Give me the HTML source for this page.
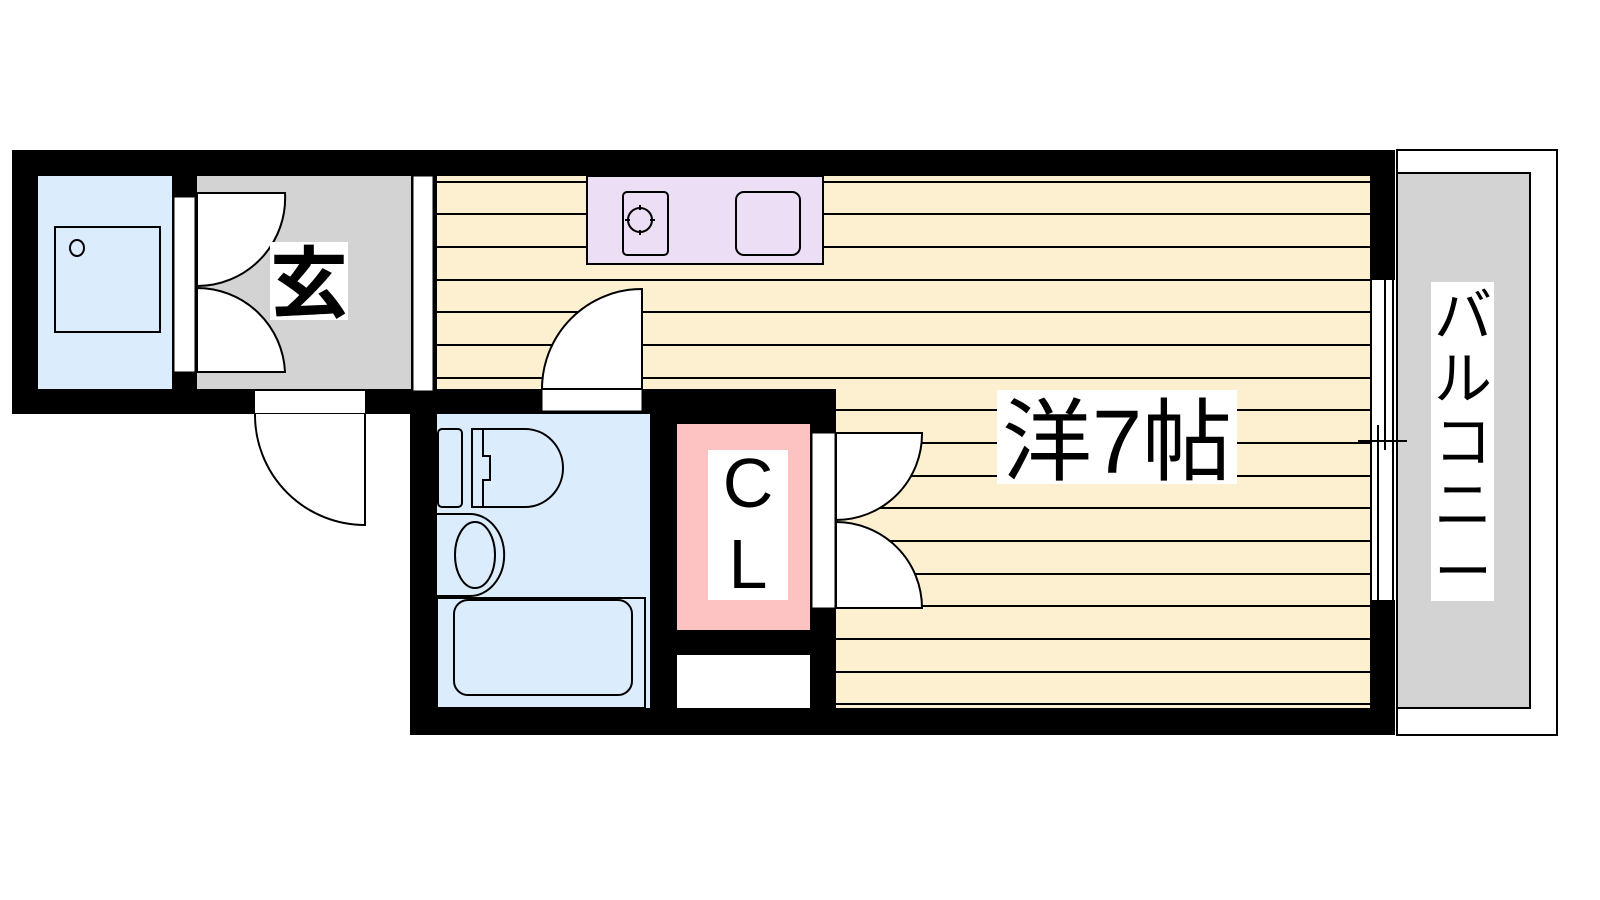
<!DOCTYPE html>
<html><head><meta charset="utf-8"><style>
html,body{margin:0;padding:0;background:#fff;width:1600px;height:900px;overflow:hidden}
svg{display:block}
text{font-family:"Liberation Sans","Noto Sans CJK JP",sans-serif;fill:#000}
</style></head><body>
<svg width="1600" height="900" viewBox="0 0 1600 900" xmlns="http://www.w3.org/2000/svg">
<rect width="1600" height="900" fill="#fff"/>
<!-- balcony -->
<rect x="1397" y="150" width="160" height="585" fill="#fff" stroke="#000" stroke-width="2"/>
<rect x="1397" y="173" width="133" height="535" fill="#d3d3d3" stroke="#000" stroke-width="2"/>
<!-- walls -->
<polygon points="12,150 1395,150 1395,735 410,735 410,414 12,414" fill="#000"/>
<!-- washer area -->
<rect x="38" y="176" width="134" height="213" fill="#dbecfd"/>
<rect x="55" y="227" width="105" height="105" fill="none" stroke="#000" stroke-width="2"/>
<ellipse cx="77" cy="248" rx="7" ry="8" fill="none" stroke="#000" stroke-width="2"/>
<!-- genkan -->
<rect x="197" y="176" width="214" height="213" fill="#d3d3d3"/>
<rect x="174" y="197" width="21" height="175" fill="#fff" stroke="#000" stroke-width="1"/>
<path d="M197,193 H285 A88,88 0 0 1 197,286 Z" fill="#fff" stroke="#000" stroke-width="2"/>
<path d="M197,372 H285 A88,88 0 0 0 197,288 Z" fill="#fff" stroke="#000" stroke-width="2"/>
<rect x="270" y="242" width="78" height="78" fill="#fff"/>
<text x="309" y="311" font-size="78" font-weight="bold" text-anchor="middle">玄</text>
<!-- partition -->
<rect x="413" y="176" width="20" height="215" fill="#fff" stroke="#000" stroke-width="1"/>
<!-- entry door -->
<rect x="255" y="391" width="110" height="23" fill="#fff"/>
<line x1="255" y1="414" x2="365" y2="414" stroke="#000" stroke-width="2"/>
<path d="M255,414 A110,110 0 0 0 365,525 V414" fill="#fff" stroke="#000" stroke-width="2"/>
<!-- room -->
<rect x="437" y="176" width="933" height="213" fill="#fdf0d1"/>
<rect x="836" y="389" width="534" height="319" fill="#fdf0d1"/>
<g stroke="#000" stroke-width="2">
<line x1="437" y1="182" x2="1370" y2="182"/><line x1="437" y1="214" x2="1370" y2="214"/>
<line x1="437" y1="247" x2="1370" y2="247"/><line x1="437" y1="280" x2="1370" y2="280"/>
<line x1="437" y1="312" x2="1370" y2="312"/><line x1="437" y1="345" x2="1370" y2="345"/>
<line x1="437" y1="378" x2="1370" y2="378"/>
<line x1="836" y1="410" x2="1370" y2="410"/><line x1="836" y1="443" x2="1370" y2="443"/>
<line x1="836" y1="476" x2="1370" y2="476"/><line x1="836" y1="508" x2="1370" y2="508"/>
<line x1="836" y1="541" x2="1370" y2="541"/><line x1="836" y1="574" x2="1370" y2="574"/>
<line x1="836" y1="606" x2="1370" y2="606"/><line x1="836" y1="639" x2="1370" y2="639"/>
<line x1="836" y1="672" x2="1370" y2="672"/><line x1="836" y1="704" x2="1370" y2="704"/>
</g>
<!-- kitchen -->
<rect x="587" y="176" width="236" height="88" fill="#ecdff5" stroke="#000" stroke-width="2"/>
<rect x="623" y="192" width="45" height="63" rx="4" fill="none" stroke="#000" stroke-width="2"/>
<rect x="736" y="192" width="64" height="63" rx="8" fill="none" stroke="#000" stroke-width="2"/>
<circle cx="640" cy="220" r="12" fill="none" stroke="#000" stroke-width="2"/>
<g stroke="#000" stroke-width="2"><line x1="640" y1="205" x2="640" y2="210"/><line x1="640" y1="230" x2="640" y2="235"/><line x1="625" y1="220" x2="630" y2="220"/><line x1="650" y1="220" x2="655" y2="220"/></g>
<!-- bath door -->
<rect x="542" y="389" width="100" height="22" fill="#fff" stroke="#000" stroke-width="1"/>
<path d="M642,289 V389 H542 A100,100 0 0 1 642,289 Z" fill="#fff" stroke="#000" stroke-width="2"/>
<!-- bath -->
<rect x="437" y="414" width="213" height="294" fill="#dbecfd"/>
<rect x="438" y="429" width="24" height="78" rx="4" fill="none" stroke="#000" stroke-width="2"/>
<path d="M472,429 H525 A38,39 0 0 1 525,507 H472 Z" fill="none" stroke="#000" stroke-width="2"/>
<path d="M483,429 V456 H490 V480 H483 V507" fill="none" stroke="#000" stroke-width="2"/>
<path d="M437,514 H470 A30,36 0 0 1 470,596 H437" fill="none" stroke="#000" stroke-width="2"/>
<ellipse cx="475" cy="555" rx="20" ry="33" fill="none" stroke="#000" stroke-width="2"/>
<rect x="437" y="598" width="208" height="110" fill="none" stroke="#000" stroke-width="2"/>
<rect x="454" y="600" width="178" height="95" rx="14" fill="none" stroke="#000" stroke-width="2"/>
<!-- closet -->
<rect x="677" y="424" width="133" height="206" fill="#fdc3c3"/>
<rect x="708" y="450" width="80" height="150" fill="#fff"/>
<text x="748" y="507" font-size="70" text-anchor="middle">C</text>
<text x="748" y="588" font-size="70" text-anchor="middle">L</text>
<rect x="677" y="655" width="133" height="53" fill="#fff"/>
<!-- closet door -->
<rect x="812" y="433" width="23" height="175" fill="#fff" stroke="#000" stroke-width="1"/>
<path d="M836,433 H922 A86,86 0 0 1 836,520 Z" fill="#fff" stroke="#000" stroke-width="2"/>
<path d="M836,608 H922 A86,86 0 0 0 836,522 Z" fill="#fff" stroke="#000" stroke-width="2"/>
<!-- room label -->
<rect x="997" y="390" width="240" height="94" fill="#fff"/>
<text x="1117" y="473" font-size="90" text-anchor="middle">洋7帖</text>
<!-- window -->
<rect x="1370" y="280" width="25" height="320" fill="#fff"/>
<g stroke="#000" stroke-width="2" fill="none">
<line x1="1371" y1="280" x2="1371" y2="600"/>
<line x1="1378" y1="425" x2="1378" y2="600"/>
<line x1="1385" y1="280" x2="1385" y2="450"/>
<line x1="1393" y1="280" x2="1393" y2="600"/>
<line x1="1358" y1="441" x2="1407" y2="441"/>
</g>
<!-- balcony label -->
<rect x="1431" y="282" width="63" height="319" fill="#fff"/>
<text font-size="58" text-anchor="middle">
<tspan x="1463" y="336">バ</tspan><tspan x="1463" y="399">ル</tspan><tspan x="1463" y="462">コ</tspan><tspan x="1463" y="525">ニ</tspan><tspan x="1463" y="592">ー</tspan>
</text>
</svg>
</body></html>
